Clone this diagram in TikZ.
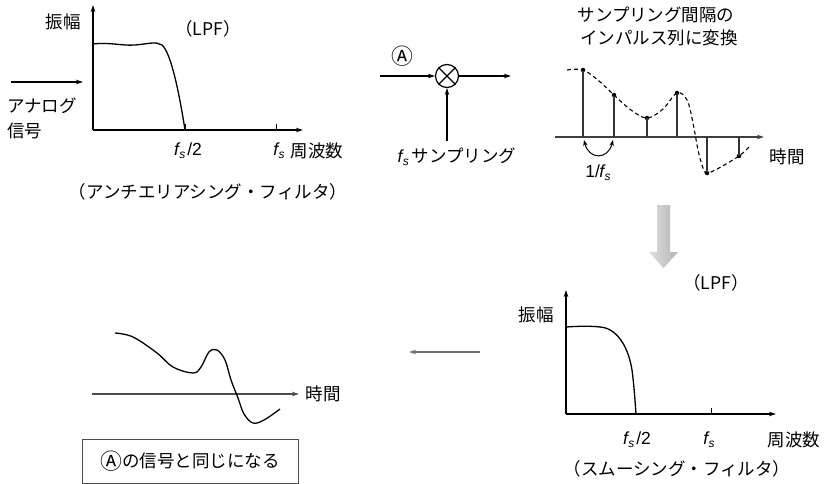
\documentclass[tikz,border=0pt]{standalone}
\usepackage{fontspec}
\setmainfont{Noto Sans CJK JP}
\newfontfamily\lsf{Liberation Sans}
\usetikzlibrary{arrows.meta,calc}
\newcommand\fsx{{\lsf\itshape f\kern0.3pt\raisebox{-0.3ex}{\fontsize{12}{12}\selectfont s}}}
\newcommand\encA{\raisebox{-0.12em}{\scalebox{1.25}{Ⓐ}}}
\begin{document}
\begin{tikzpicture}[x=1pt,y=-1pt,
  lbl/.style={inner sep=0pt,font=\fontsize{17.5}{20}\selectfont},
  axis/.style={line width=1.1pt,-{Stealth[length=7pt,width=4.5pt]}},
  garrow/.style={line width=1.1pt,-{Stealth[length=7pt,width=4.5pt]}},
  curve/.style={line width=1.3pt},
  dcurve/.style={line width=1.1pt,dash pattern=on 4pt off 3pt},
  stem/.style={line width=1.1pt,black!80},
  dot/.style={circle,fill=black,inner sep=0pt,minimum size=4.5pt}]
\useasboundingbox (0,0) rectangle (824,484);

% ---- top-left: anti-aliasing filter
\coordinate (o1) at (93,130);
\coordinate (y1) at (93,5);
\coordinate (x1) at (303,130);
\draw[axis] (o1) -- (y1);
\draw[axis] (o1) -- (x1);
\coordinate (t1a) at (185,130);
\coordinate (t1b) at (276,130);
\draw[line width=1pt] (t1a) -- ++(0,-6);
\draw[line width=1pt] (t1b) -- ++(0,-6);
\draw[curve] (93,44) .. controls (110,42) and (122,46) .. (135,45)
  .. controls (148,44) and (156,41) .. (162,45)
  .. controls (170,52) and (178,85) .. (t1a);
\node[lbl] (amp1) at (63,22) {振幅};
\node[lbl] (lpf1) at (208,29) {（LPF）};
\coordinate (ain0) at (11,82);
\coordinate (ain1) at (83,82);
\draw[garrow] (ain0) -- (ain1);
\node[lbl,anchor=west] (ana1) at (7,106) {アナログ};
\node[lbl,anchor=west] (ana2) at (7,131) {信号};
\node[lbl] (fh1) at (188,151) {\fsx\kern2pt{\lsf /2}};
\node[lbl] (fs1) at (279,151) {\fsx};
\node[lbl] (fq1) at (317,151) {周波数};
\node[lbl] (cap1) at (208,192) {（アンチエリアシング・フィルタ）};

% ---- multiplier
\node[circle,draw,line width=1.2pt,minimum size=23pt,inner sep=0pt] (mul) at (447,76) {};
\draw[line width=1.1pt] (mul.45) -- (mul.225) (mul.135) -- (mul.315);
\coordinate (min) at (380,76);
\coordinate (mout) at (511,76);
\coordinate (mbot) at (447,141);
\draw[garrow] (min) -- (mul);
\draw[garrow] (mul) -- (mout);
\draw[garrow] (mbot) -- (mul);
\node[lbl] (A1) at (402,56) {\encA};
\node[lbl] (samp) at (457,157) {\fsx\kern3pt サンプリング};

% ---- impulse train
\node[lbl] (tit1) at (656,15) {サンプリング間隔の};
\node[lbl] (tit2) at (659,38) {インパルス列に変換};
\coordinate (ia0) at (555,137);
\coordinate (ia1) at (764,137);
\draw[axis,black!75] (ia0) -- (ia1);
\foreach \n/\x/\y in {p1/583/70,p2/614/95,p3/647/118,p4/677/93,p5/707/173,p6/739/156}{
  \coordinate (b\n) at (\x,137);
  \node[dot] (\n) at (\x,\y) {};
  \draw[stem] (b\n) -- (\n.center);
}
\draw[dcurve] plot[smooth,tension=0.6] coordinates {(567,70) (583,70) (599,81) (614,95) (631,110) (647,118) (663,109) (677,93) (687,100) (693,123) (698,150) (703,168) (707,173) (719,168) (739,156) (749,147)};
\draw[line width=1pt,{Stealth[length=6pt,width=4.5pt]}-{Stealth[length=6pt,width=4.5pt]}] ($(bp1)+(1,3)$) .. controls (589,160) and (608,160) .. ($(bp2)+(-1,3)$);
\node[lbl] (inv) at (598,173) {{\lsf 1/}\kern-0.5pt\fsx};
\node[lbl] (tm1) at (787,157) {時間};

% ---- gray arrow
\shade[left color=gray!25,right color=gray!60] (657,205) -- (670,205) -- (670,252) -- (678,252) -- (663.5,268) -- (649,252) -- (657,252) -- cycle;

% ---- bottom-right: smoothing filter
\coordinate (o2) at (566,414);
\coordinate (y2) at (566,290);
\coordinate (x2) at (776,414);
\draw[axis] (o2) -- (y2);
\draw[axis] (o2) -- (x2);
\coordinate (t2a) at (636,414);
\coordinate (t2b) at (711,414);
\draw[line width=1pt] (t2b) -- ++(0,-6);
\draw[curve] (566,327) .. controls (580,326) and (592,326) .. (600,327)
  .. controls (616,328) and (628,345) .. (632,370)
  .. controls (634,385) and (635,400) .. (t2a);
\node[lbl] (amp2) at (536,315) {振幅};
\node[lbl] (lpf2) at (716,283) {（LPF）};
\node[lbl] (fh2) at (637,440) {\fsx\kern2pt{\lsf /2}};
\node[lbl] (fs2) at (709,440) {\fsx};
\node[lbl] (fq2) at (794,440) {周波数};
\node[lbl] (cap2) at (677,469) {（スムーシング・フィルタ）};

% ---- left arrow
\coordinate (la0) at (480,352);
\coordinate (la1) at (409,352);
\draw[line width=1.1pt,black!55,-{Stealth[length=7pt,width=4.5pt]}] (la0) -- (la1);

% ---- bottom-left: reconstructed signal
\coordinate (ba0) at (92,394);
\coordinate (ba1) at (299,394);
\draw[axis,black!70] (ba0) -- (ba1);
\node[lbl] (tm2) at (323,394) {時間};
\draw[curve] plot[smooth,tension=0.6] coordinates {(115,333) (133,337) (157,353) (173,367) (193,373) (201,367) (209,352) (217,350) (225,360) (231,380) (238,398) (244,414) (253,423) (264,420) (280,409)};
\node[draw,black!70,line width=1pt,minimum width=216pt,minimum height=44pt,inner sep=0pt] (box) at (190,461.5) {};
\node[lbl] (boxt) at (box) {\encA{}の信号と同じになる};
\end{tikzpicture}
\end{document}
